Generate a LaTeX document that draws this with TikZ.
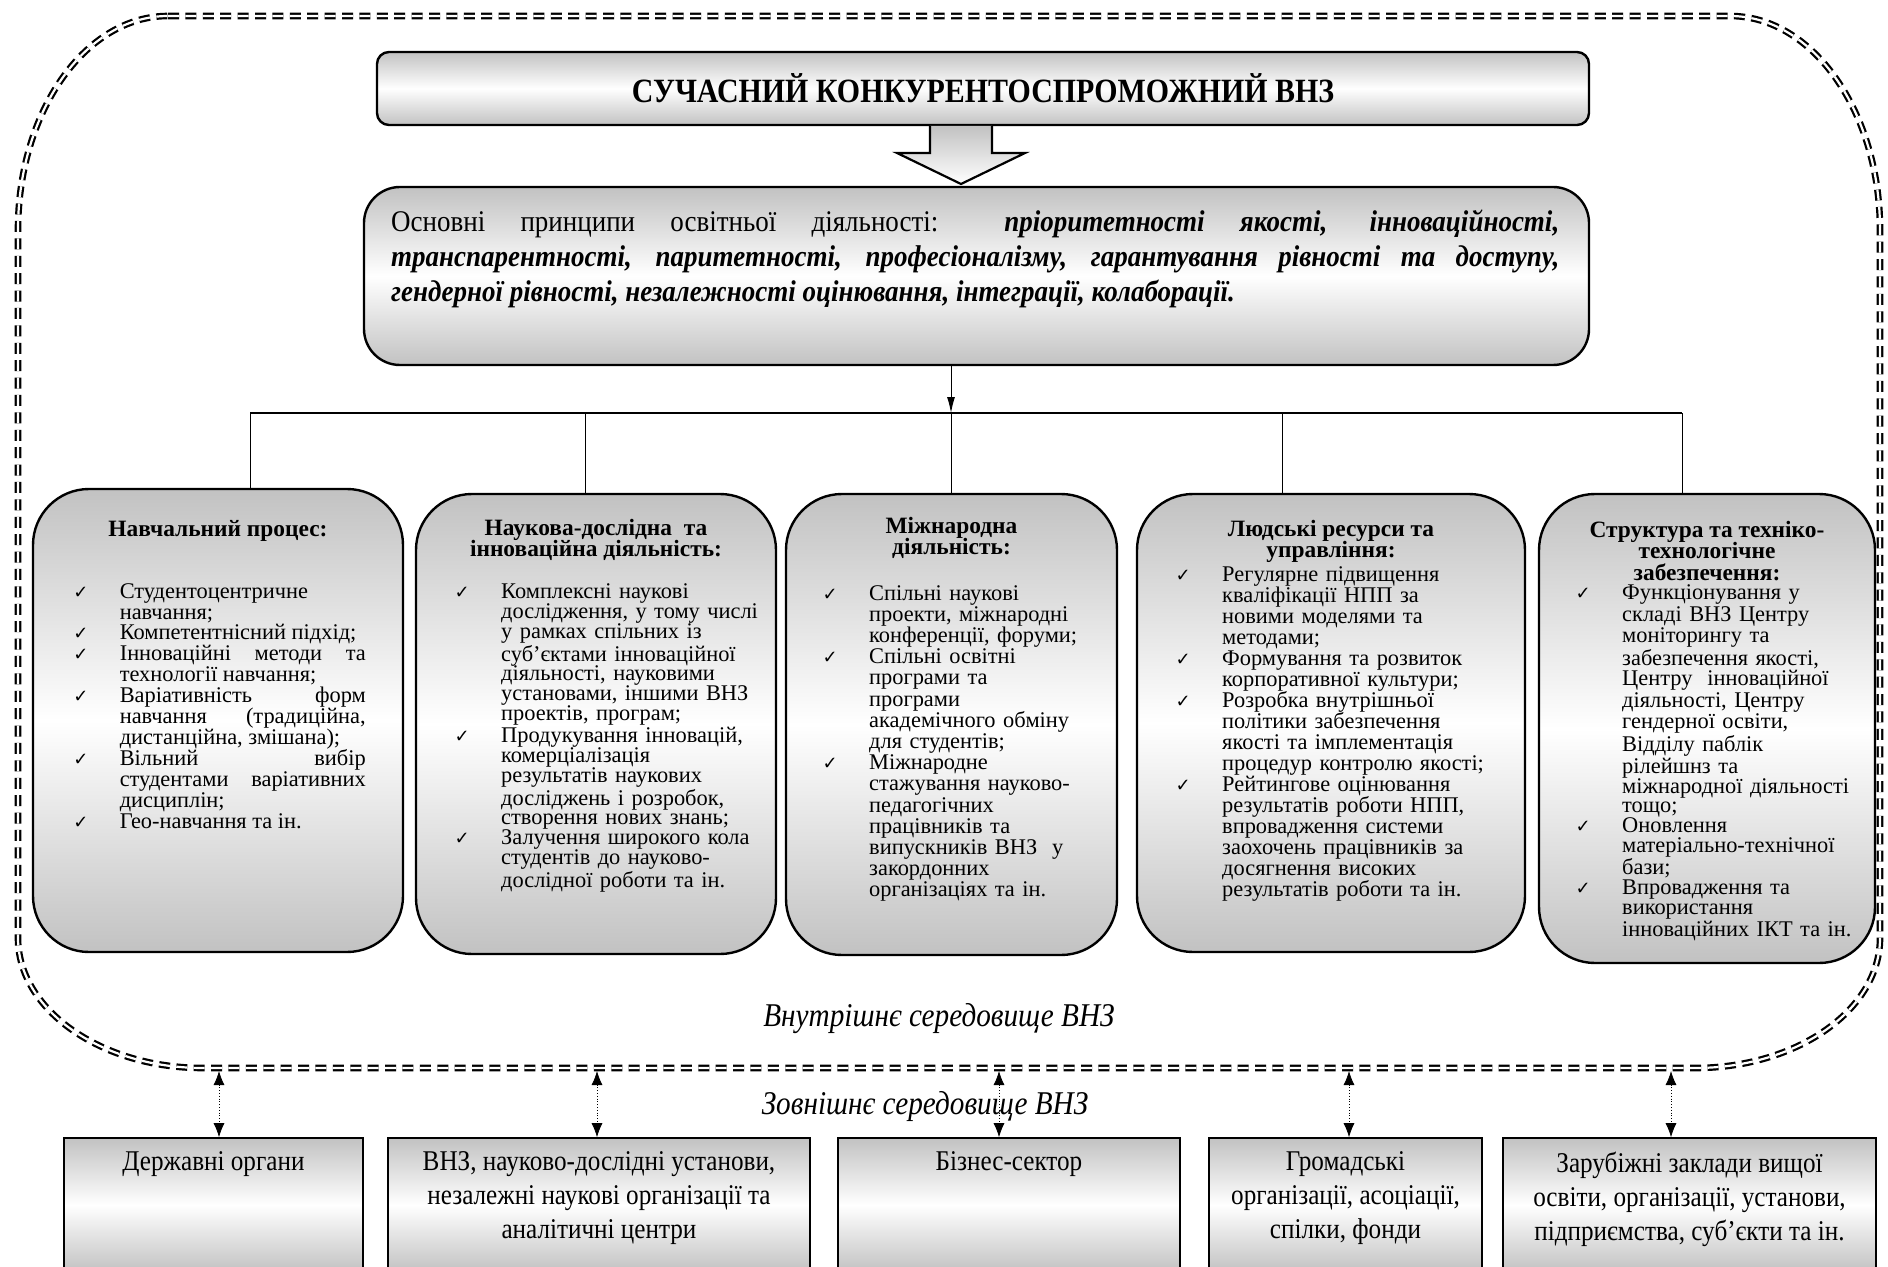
\documentclass[tikz,border=0pt]{standalone}
\usepackage{fontspec}
\setmainfont{Liberation Serif}
\newfontfamily\tickfont{DejaVu Sans}
\newfontfamily\narrowfont[FakeStretch=0.88]{Liberation Serif}
\newfontfamily\princfont[FakeStretch=0.9]{Liberation Serif}
\usetikzlibrary{positioning,arrows.meta}
\definecolor{shadegray}{gray}{0.76}
\newcommand\tickitem{\par\noindent\llap{\makebox[0pt]{\fontsize{9}{9}\tickfont ✓}\hspace{19.5pt}}}
\tikzset{
  envline/.style={draw, line width=1.1pt, double, double distance=1.1pt, dash pattern=on 5.5pt off 3.2pt},
  titlebox/.style={draw, line width=1.2pt, rounded corners=6pt, top color=shadegray, bottom color=shadegray, middle color=white, minimum width=606pt, minimum height=36.5pt, inner sep=0pt, font=\narrowfont\bfseries\fontsize{17}{20}\selectfont},
  blockarrow/.style={draw, line width=1.1pt, top color=shadegray, bottom color=white},
  princbox/.style={draw, line width=1.2pt, rounded corners=18pt, top color=shadegray, bottom color=shadegray, middle color=white, minimum width=612.5pt, minimum height=89pt},
  princtext/.style={inner sep=0pt, text width=584pt, align=justify, font=\princfont\fontsize{15}{17.5}\selectfont},
  areabox/.style={draw, line width=1.2pt, rounded corners=28pt, top color=shadegray, bottom color=shadegray, middle color=white},
  areahead/.style={inner sep=0pt, align=center, text depth=0pt, font=\bfseries\fontsize{11.7}{10.7}\selectfont},
  arealist/.style 2 args={inner sep=0pt, anchor=north west, text width=#1, align=left, font=\fontsize{11.2}{#2}\selectfont},
  outbox/.style={draw, line width=0.8pt, top color=shadegray, bottom color=shadegray, middle color=white, minimum height=67pt, inner sep=0pt},
  outtext/.style={inner sep=0pt, align=center, font=\narrowfont\fontsize{14.3}{17}\selectfont},
  envlabel/.style={inner sep=0pt, font=\narrowfont\itshape\fontsize{16.6}{20}\selectfont},
  bus/.style={line width=0.9pt},
  branch/.style={line width=0.5pt},
  mainarrow/.style={line width=0.5pt, -{Latex[length=8pt,width=4pt]}},
  linkarrow/.style={line width=0.4pt, densely dotted, {Latex[length=7pt,width=5.5pt]}-{Latex[length=7pt,width=5.5pt]}}
}
\begin{document}
\begin{tikzpicture}[x=0.5pt,y=-0.5pt]
\useasboundingbox (0,0) rectangle (1888,1267);
\clip (0,0) rectangle (1888,1267);

\draw[envline] (168,16) -- (1730,16) arc[start angle=-90,end angle=0,x radius=150,y radius=214]
  -- (1880,938) arc[start angle=0,end angle=90,x radius=185,y radius=130]
  -- (203,1068) arc[start angle=90,end angle=180,x radius=185,y radius=130]
  -- (18,230) arc[start angle=180,end angle=270,x radius=150,y radius=214] -- cycle;

\node[titlebox] (vnz) at (983,88.5) {СУЧАСНИЙ КОНКУРЕНТОСПРОМОЖНИЙ ВНЗ};
\draw[blockarrow] (930,126) -- (930,153) -- (897,153) -- (961,184) -- (1025,153) -- (992,153) -- (992,126);

\node[princbox] (princ) at (976.5,276) {};
\node[princtext, anchor=north west] (princtxt) at ([xshift=14pt,yshift=-11.8pt]princ.north west)
  {Основні принципи освітньої діяльності: \textbf{\textit{пріоритетності якості, інноваційності,\linebreak
  транспарентності, паритетності, професіоналізму, гарантування рівності та доступу,\linebreak
  гендерної рівності, незалежності  оцінювання, інтеграції, колаборації.}}};

\node[areabox, minimum width=185pt, minimum height=231.5pt] (learn) at (218,720.5) {};
\node[areabox, minimum width=180pt, minimum height=230pt] (research) at (596,724) {};
\node[areabox, minimum width=165.5pt, minimum height=230.5pt] (intl) at (951.5,724.5) {};
\node[areabox, minimum width=194pt, minimum height=229pt] (staff) at (1331,723) {};
\node[areabox, minimum width=168pt, minimum height=234.5pt] (infra) at (1707,728.5) {};

\coordinate (b1) at (250,413);
\coordinate (b2) at (585,413);
\coordinate (b3) at (951,413);
\coordinate (b4) at (1282,413);
\coordinate (b5) at (1682,413);
\draw[mainarrow] (princ.south -| b3) -- (b3);
\draw[bus] (b1) -- (b5);
\draw[branch] (b1) -- (b1 |- learn.north);
\draw[branch] (b2) -- (b2 |- research.north);
\draw[branch] (b3) -- (b3 |- intl.north);
\draw[branch] (b4) -- (b4 |- staff.north);
\draw[branch] (b5) -- (b5 |- infra.north);

\node[areahead, below=16pt of learn.north] (learnhead) {Навчальний процес:};
\node[areahead, below=13pt of research.north] (researchhead) {Наукова-дослідна \ та\\інноваційна діяльність:};
\node[areahead, below=12pt of intl.north] (intlhead) {Міжнародна\\діяльність:};
\node[areahead, below=13.5pt of staff.north] (staffhead) {Людські ресурси та\\управління:};
\node[areahead, below=14pt of infra.north] (infrahead) {Структура та техніко-\\технологічне\\забезпечення:};

\node[arealist={123pt}{10.45pt}, align=justify] (learnlist) at ([xshift=43.8pt,yshift=-44.5pt]learn.north west) {%
  \tickitem Студентоцентричне\linebreak навчання;
  \tickitem Компетентнісний підхід;
  \tickitem Інноваційні методи та\linebreak технології навчання;
  \tickitem Варіативність форм\linebreak навчання (традиційна,\linebreak дистанційна, змішана);
  \tickitem Вільний вибір\linebreak студентами варіативних\linebreak дисциплін;
  \tickitem Гео-навчання та ін.};
\node[arealist={130pt}{9.9pt}] (researchlist) at ([xshift=43pt,yshift=-42.8pt]research.north west) {%
  \tickitem Комплексні наукові\\ дослідження, у тому числі\\ у рамках спільних із\\ суб’єктами інноваційної\\ діяльності, науковими\\ установами, іншими ВНЗ\\ проектів, програм;
  \tickitem Продукування інновацій,\\ комерціалізація\\ результатів наукових\\ досліджень і розробок,\\ створення нових знань;
  \tickitem Залучення широкого кола\\ студентів до науково-\\ дослідної роботи та ін.};
\node[arealist={120pt}{10.6pt}] (intllist) at ([xshift=42pt,yshift=-42.8pt]intl.north west) {%
  \tickitem Спільні наукові\\ проекти, міжнародні\\ конференції, форуми;
  \tickitem Спільні освітні\\ програми та\\ програми\\ академічного обміну\\ для студентів;
  \tickitem Міжнародне\\ стажування науково-\\ педагогічних\\ працівників та\\ випускників ВНЗ \ у\\ закордонних\\ організаціях та ін.};
\node[arealist={140pt}{10.5pt}] (stafflist) at ([xshift=43pt,yshift=-33.6pt]staff.north west) {%
  \tickitem Регулярне підвищення\\ кваліфікації НПП за\\ новими моделями та\\ методами;
  \tickitem Формування та розвиток\\ корпоративної культури;
  \tickitem Розробка внутрішньої\\ політики забезпечення\\ якості та імплементація\\ процедур контролю якості;
  \tickitem Рейтингове оцінювання\\ результатів роботи НПП,\\ впровадження системи\\ заохочень працівників за\\ досягнення високих\\ результатів роботи та ін.};
\node[arealist={130pt}{9.8pt}] (infralist) at ([xshift=42pt,yshift=-43.4pt]infra.north west) {%
  \tickitem Функціонування у\\ складі ВНЗ Центру\\ моніторингу та\\ забезпечення якості,\\ Центру \ інноваційної\\ діяльності, Центру\\ гендерної освіти,\\ Відділу паблік\\ рілейшнз та\\ міжнародної діяльності\\ тощо;
  \tickitem Оновлення\\ матеріально-технічної\\ бази;
  \tickitem Впровадження та\\ використання\\ інноваційних ІКТ та ін.};

\node[envlabel] (inner) at (939,1019) {Внутрішнє середовище ВНЗ};
\node[envlabel] (outer) at (925,1107) {Зовнішнє середовище ВНЗ};

\node[outbox, minimum width=149.5pt] (gov) at (213.5,1205) {};
\node[outbox, minimum width=211pt] (edu) at (599,1205) {};
\node[outbox, minimum width=171pt] (biz) at (1009,1205) {};
\node[outbox, minimum width=136.5pt] (civ) at (1345.5,1205) {};
\node[outbox, minimum width=186.5pt] (abroad) at (1689.5,1205) {};

\node[outtext, below=7pt of gov.north] (govtxt) {Державні органи};
\node[outtext, below=7pt of edu.north] (edutxt) {ВНЗ, науково-дослідні установи,\\незалежні наукові організації та\\аналітичні центри};
\node[outtext, below=7pt of biz.north] (biztxt) {Бізнес-сектор};
\node[outtext, below=7pt of civ.north] (civtxt) {Громадські\\організації, асоціації,\\спілки, фонди};
\node[outtext, below=7pt of abroad.north] (abroadtxt) {Зарубіжні заклади вищої\\освіти, організації, установи,\\підприємства, суб’єкти та ін.};

\coordinate (l1) at (219,1071);
\coordinate (l2) at (597,1071);
\coordinate (l3) at (999,1071);
\coordinate (l4) at (1349,1071);
\coordinate (l5) at (1671,1071);
\draw[linkarrow] (l1) -- (l1 |- gov.north);
\draw[linkarrow] (l2) -- (l2 |- edu.north);
\draw[linkarrow] (l3) -- (l3 |- biz.north);
\draw[linkarrow] (l4) -- (l4 |- civ.north);
\draw[linkarrow] (l5) -- (l5 |- abroad.north);
\end{tikzpicture}
\end{document}
